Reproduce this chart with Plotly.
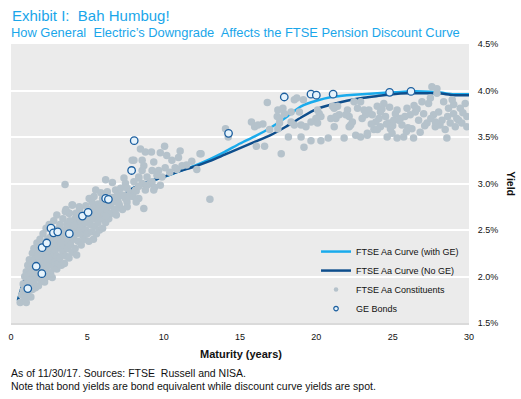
import plotly.graph_objects as go

# ---- Discount curves ----
curve_x = [0.45, 0.9, 1.5, 2, 3, 4, 5, 6, 7, 8, 9, 10, 11, 12, 13, 14, 15, 16, 17, 18, 19, 20, 21, 22, 23, 24, 25, 26, 27, 28, 29, 30]
curve_with_ge = [1.74, 1.97, 2.07, 2.15, 2.29, 2.45, 2.58, 2.71, 2.83, 2.95, 3.02, 3.07, 3.13, 3.19, 3.26, 3.34, 3.43, 3.51, 3.60, 3.71, 3.83, 3.89, 3.93, 3.95, 3.96, 3.97, 3.98, 3.99, 3.99, 3.98, 3.96, 3.96]
curve_no_ge = [1.74, 1.97, 2.07, 2.15, 2.29, 2.45, 2.58, 2.71, 2.83, 2.95, 3.02, 3.07, 3.13, 3.18, 3.24, 3.31, 3.38, 3.45, 3.52, 3.61, 3.71, 3.80, 3.85, 3.89, 3.92, 3.94, 3.96, 3.97, 3.97, 3.97, 3.95, 3.95]

# ---- GE bonds ----
ge_x = [1.1, 1.65, 2.02, 2.04, 2.34, 2.62, 2.78, 3.06, 3.82, 4.68, 5.05, 6.2, 6.38, 7.9, 8.07, 14.25, 17.9, 19.65, 20.0, 21.1, 24.8, 26.2]
ge_y = [1.87, 2.11, 2.03, 2.31, 2.36, 2.52, 2.47, 2.48, 2.46, 2.65, 2.69, 2.84, 2.83, 3.14, 3.46, 3.54, 3.93, 3.96, 3.95, 3.96, 3.98, 3.99]

# ---- FTSE Aa constituents (maturity, yield) ----
const_short_x = [0.6, 0.7, 0.8, 0.8, 0.9, 0.9, 1.0, 1.0, 1.0, 1.1, 1.1, 1.1, 1.2, 1.2, 1.2, 1.3, 1.3, 1.3, 1.4, 1.4, 1.4, 1.5, 1.5, 1.5, 1.6, 1.6, 1.6, 1.7, 1.7, 1.7, 1.8, 1.8, 1.8, 1.9, 1.9, 1.9, 2.0, 2.0, 2.0, 2.1, 2.1, 2.1, 2.2, 2.2, 2.2, 2.3, 2.3, 2.3,
                 2.4, 2.4, 2.4, 2.5, 2.5, 2.5, 2.6, 2.6, 2.6, 2.7, 2.7, 2.7, 2.8, 2.8, 2.8, 2.9, 2.9, 2.9, 3.0, 3.0, 3.0, 3.0, 3.1, 3.1, 3.2, 3.2, 3.2, 3.3, 3.3, 3.4, 3.4, 3.4, 3.5, 3.5, 3.5, 3.54, 3.6, 3.6, 3.6, 3.7, 3.7, 3.8, 3.8, 3.8, 3.9, 3.9, 4.0, 4.0, 4.0,
                 4.1, 4.1, 4.2, 4.2, 4.3, 4.3, 4.4, 4.4, 4.5, 4.5, 4.6, 4.6, 4.7, 4.7, 4.8, 4.8, 4.9, 4.9, 5.0, 5.0, 5.1, 5.1, 5.2, 5.2, 5.3, 5.3, 5.4, 5.4, 5.5, 5.5, 5.6, 5.6, 5.7, 5.7, 5.8, 5.8, 5.9, 6.0, 6.0, 6.0,
                 1.05, 1.25, 1.45, 1.75, 1.95, 2.15, 2.35, 2.55, 2.75, 2.95, 3.15, 3.35, 3.65, 3.85, 4.15, 4.45, 4.75, 5.25, 5.65, 0.95, 1.35, 1.85, 2.45, 2.85, 3.25, 3.75, 4.25, 4.85, 5.35, 5.95]
const_short_y = [1.72, 1.80, 1.85, 1.92, 1.78, 2.00, 1.72, 1.88, 2.05, 1.95, 2.12, 1.82, 1.90, 2.02, 2.18, 1.78, 1.98, 2.08, 1.86, 2.15, 2.25, 1.92, 2.04, 2.30, 1.88, 2.10, 2.20, 1.98, 2.06, 2.36, 1.90, 2.14, 2.26, 2.02, 2.18, 2.40, 1.96, 2.10, 2.28, 2.05, 2.22, 2.46, 1.94, 2.14, 2.34, 2.08, 2.20, 2.52,
                 2.00, 2.26, 2.40, 2.12, 2.30, 2.56, 2.04, 2.18, 2.36, 1.99, 2.24, 2.44, 2.10, 2.32, 2.60, 2.16, 2.28, 2.50, 2.08, 2.22, 2.40, 2.66, 2.14, 2.34, 2.20, 2.46, 2.56, 2.12, 2.30, 2.26, 2.40, 2.62, 2.14, 2.34, 2.50, 2.99, 2.22, 2.44, 2.70, 2.30, 2.38, 2.20, 2.52, 2.68, 2.34, 2.44, 2.26, 2.58, 2.77,
                 2.40, 2.50, 2.30, 2.62, 2.23, 2.46, 2.56, 2.38, 2.72, 2.50, 2.34, 2.60, 2.44, 2.54, 2.40, 2.66, 2.50, 2.76, 2.46, 2.60, 2.38, 2.70, 2.56, 2.64, 2.48, 2.80, 2.40, 2.62, 2.54, 2.72, 2.46, 2.66, 2.58, 2.78, 2.50, 2.64, 2.70, 2.52, 2.62, 2.84,
                 2.00, 1.96, 2.12, 2.22, 2.08, 2.30, 2.26, 2.42, 2.36, 2.44, 2.52, 2.48, 2.56, 2.60, 2.55, 2.64, 2.62, 2.70, 2.74, 1.84, 2.04, 2.32, 2.20, 2.40, 2.36, 2.48, 2.68, 2.58, 2.74, 2.76]

const_mid_x = [6.1, 6.2, 6.2, 6.3, 6.4, 6.5, 6.6, 6.7, 6.8, 6.9, 7.0, 7.1, 7.2, 7.3, 7.5, 7.6, 7.8, 8.0, 8.2,
               6.2, 6.64, 7.4, 7.5, 8.05, 8.37, 8.6, 8.91, 9.1, 9.4, 5.55, 5.88, 6.31, 6.85, 7.18, 7.61, 8.16, 5.12, 5.44, 6.64, 6.96, 7.4, 7.72, 8.37, 5.99, 6.42, 7.07, 7.61, 8.2,
               4.03, 4.47, 5.77, 6.85, 3.82, 4.36, 5.44, 6.2, 3.6, 8.7, 3.56, 7.94, 8.05,
               8.48, 8.8, 9.2, 10.06, 9.78, 10.2, 11.08, 10.97, 10.54, 9.35, 12.38, 11.84, 12.17, 8.59, 8.7, 8.59, 9.24, 9.67, 10.1, 10.75, 10.87, 11.2, 8.37, 8.91, 9.56, 9.89, 9.24, 9.78, 8.37, 8.8, 9.35, 13.03, 12.45, 11.5, 10.4]
const_mid_y = [2.66, 2.58, 2.74, 2.70, 2.62, 2.76, 2.68, 2.80, 2.72, 2.66, 2.82, 2.76, 2.88, 2.72, 2.84, 2.80, 2.90, 2.86, 2.92,
               3.04, 3.01, 3.06, 3.00, 3.02, 3.06, 3.00, 2.98, 3.00, 2.96, 2.93, 2.90, 2.91, 2.93, 2.95, 2.95, 2.93, 2.84, 2.86, 2.85, 2.87, 2.87, 2.86, 2.84, 2.80, 2.78, 2.78, 2.75, 2.80,
               2.77, 2.75, 2.72, 2.72, 2.68, 2.65, 2.68, 2.65, 2.72, 2.73, 2.70, 3.25, 3.25,
               3.37, 3.34, 3.34, 3.40, 3.33, 3.30, 3.35, 3.28, 3.25, 3.23, 3.32, 3.24, 3.15, 3.25, 3.19, 3.14, 3.14, 3.14, 3.17, 3.17, 3.15, 3.19, 3.07, 3.07, 3.09, 3.07, 3.02, 2.98, 2.97, 2.93, 2.93, 2.83, 3.32, 3.20, 3.12]

const_long_x = [14.05, 14.23, 15.75, 16.79, 18.56, 18.72, 19.15, 17.48, 17.81, 17.44, 17.59, 17.91, 18.35, 18.89, 20.08, 20.19, 20.3, 19.97, 19.65, 20.08, 19.0, 19.32, 18.56, 18.35, 17.59, 17.48, 16.94, 15.96, 16.18, 16.5,
                16.07, 16.61, 17.7, 18.17, 19.0, 19.19, 19.65, 20.3, 20.78, 20.95, 21.17, 21.39, 21.5, 21.28, 21.17, 21.82, 22.04, 22.15, 22.36, 22.15, 22.7, 22.9, 23.0, 22.58, 22.9, 23.34, 23.44, 23.23,
                21.06, 21.28, 21.93, 22.25, 22.47, 23.12, 23.34, 23.66, 23.99, 24.2, 24.42, 24.53, 24.75, 24.85, 25.07, 25.18, 25.29, 25.29, 25.5, 25.61, 25.72, 25.94, 26.15, 26.26, 26.37, 26.48, 26.7, 26.92, 27.03, 27.25, 27.35,
                27.47, 27.57, 27.9, 27.9, 27.68, 27.79, 28.01, 28.23, 28.34, 28.44, 28.55, 28.66, 28.77, 28.99, 29.1, 29.32, 29.43, 29.53, 29.75, 29.86, 29.86, 23.77, 24.64, 24.2, 24.96,
                23.9, 24.1, 24.3, 24.6, 25.0, 25.4, 25.8, 26.0, 26.6, 27.1, 27.5, 28.1, 28.6, 29.0, 29.6, 23.6, 24.8, 26.8, 29.2, 26.4, 27.8, 25.9, 24.0, 28.9]
const_long_y = [3.59, 3.50, 3.66, 3.87, 3.90, 3.92, 3.90, 3.79, 3.81, 3.72, 3.70, 3.75, 3.77, 3.77, 3.79, 3.75, 3.72, 3.70, 3.66, 3.65, 3.63, 3.61, 3.63, 3.66, 3.65, 3.59, 3.58, 3.61, 3.63, 3.64,
                3.40, 3.40, 3.32, 3.50, 3.50, 3.39, 3.46, 3.46, 3.49, 3.70, 3.81, 3.83, 3.74, 3.70, 3.61, 3.49, 3.79, 3.72, 3.66, 3.61, 3.81, 3.88, 3.70, 3.52, 3.50, 3.52, 3.79, 3.74,
                3.83, 3.72, 3.74, 3.63, 3.88, 3.79, 3.54, 3.74, 3.83, 3.61, 3.86, 3.72, 3.65, 3.59, 3.68, 3.75, 3.79, 3.49, 3.70, 3.63, 3.50, 3.81, 3.74, 3.59, 3.49, 3.77, 3.68, 3.88, 3.75, 3.65, 3.86,
                3.92, 4.04, 4.02, 3.97, 3.74, 3.61, 3.77, 3.68, 3.88, 3.58, 3.49, 3.81, 3.65, 3.75, 3.61, 3.68, 3.81, 3.65, 3.86, 3.72, 3.61, 3.58, 3.50, 3.77, 3.54,
                3.66, 3.70, 3.80, 3.64, 3.62, 3.68, 3.72, 3.60, 3.80, 3.62, 3.70, 3.63, 3.72, 3.85, 3.76, 3.64, 3.82, 3.55, 3.70, 3.84, 3.66, 3.56, 3.58, 3.90]

const_x = const_short_x + const_mid_x + const_long_x
const_y = const_short_y + const_mid_y + const_long_y

FONT = "Liberation Sans, Arial, sans-serif"
LIGHT = "#1AABEC"
DARK = "#0E4E8C"
TITLE_BLUE = "#1AA6EA"
CONST_COLOR = "#B5C2CB"
GE_FILL = "#E6F3FC"
GE_LINE = "#1B5E9E"

fig = go.Figure()
fig.add_trace(go.Scatter(x=curve_x, y=curve_with_ge, mode="lines", name="FTSE Aa Curve (with GE)",
                         line=dict(color=LIGHT, width=2.5, shape="spline", smoothing=0.6)))
fig.add_trace(go.Scatter(x=curve_x, y=curve_no_ge, mode="lines", name="FTSE Aa Curve (No GE)",
                         line=dict(color=DARK, width=2.5, shape="spline", smoothing=0.6)))
fig.add_trace(go.Scatter(x=const_x, y=const_y, mode="markers", name="FTSE Aa Constituents",
                         showlegend=False,
                         marker=dict(color=CONST_COLOR, size=7.5, line=dict(width=0))))
fig.add_trace(go.Scatter(x=ge_x, y=ge_y, mode="markers", name="GE Bonds", showlegend=False,
                         marker=dict(color=GE_FILL, size=7.5, line=dict(color=GE_LINE, width=1.3))))
# legend-only entries with the small legend symbols
fig.add_trace(go.Scatter(x=[None], y=[None], mode="markers", name="FTSE Aa Constituents",
                         marker=dict(color=CONST_COLOR, size=4.5, line=dict(width=0))))
fig.add_trace(go.Scatter(x=[None], y=[None], mode="markers", name="GE Bonds",
                         marker=dict(color=GE_FILL, size=4.5, line=dict(color=GE_LINE, width=1.2))))

fig.update_layout(
    width=521, height=399,
    margin=dict(l=8, r=52, t=44, b=76),
    paper_bgcolor="white", plot_bgcolor="#EBEBEB",
    font=dict(family=FONT, size=9, color="#111111"),
    showlegend=True,
    legend=dict(x=0.666, y=0.308, xanchor="left", yanchor="top", bgcolor="rgba(0,0,0,0)",
                font=dict(size=9, color="#111111"), itemwidth=30, tracegroupgap=0),
    xaxis=dict(range=[0, 30], dtick=5, tick0=0, showgrid=False, zeroline=False,
               showline=True, linecolor="#DADADA", linewidth=2,
               ticks="outside", ticklen=4, tickcolor="rgba(0,0,0,0)",
               tickfont=dict(size=9, color="#111111")),
    yaxis=dict(range=[1.5, 4.5], dtick=0.5, tick0=1.5, side="right", showgrid=True,
               gridcolor="white", gridwidth=1.5, zeroline=False, showline=False,
               ticksuffix="%", tickformat=".1f",
               ticks="outside", ticklen=6, tickcolor="rgba(0,0,0,0)",
               tickfont=dict(size=9, color="#111111")),
)


# Convert pixel positions to paper coordinates for text annotations
def px(xp):
    return (xp - 8) / 461.0


def py(yp):
    return (323 - yp) / 279.0


texts = [
    dict(text="Exhibit I:\u00a0 Bah Humbug!", x=px(7), y=py(15), xanchor="left", yanchor="middle",
         font=dict(size=15, color=TITLE_BLUE)),
    dict(text="How General\u00a0 Electric\u2019s Downgrade\u00a0 Affects the FTSE Pension Discount Curve",
         x=px(6), y=py(32), xanchor="left", yanchor="middle",
         font=dict(size=12.9, color=TITLE_BLUE)),
    dict(text="<b>Maturity (years)</b>", x=px(240), y=py(354), xanchor="center", yanchor="middle",
         font=dict(size=11, color="#111111")),
    dict(text="<b>Yield</b>", x=px(511), y=py(184), xanchor="center", yanchor="middle", textangle=90,
         font=dict(size=10.5, color="#111111")),
    dict(text="As of 11/30/17. Sources: FTSE\u00a0 Russell and NISA.", x=px(6), y=py(373),
         xanchor="left", yanchor="middle", font=dict(size=10.5, color="#111111")),
    dict(text="Note that bond yields are bond equivalent while discount curve yields are spot.",
         x=px(6), y=py(386), xanchor="left", yanchor="middle", font=dict(size=10.5, color="#111111")),
]
for t in texts:
    fig.add_annotation(xref="paper", yref="paper", showarrow=False, **t)

fig.write_html("out.html", config={"displayModeBar": False},
               post_script="document.body.style.margin='0';document.body.style.overflow='hidden';")
